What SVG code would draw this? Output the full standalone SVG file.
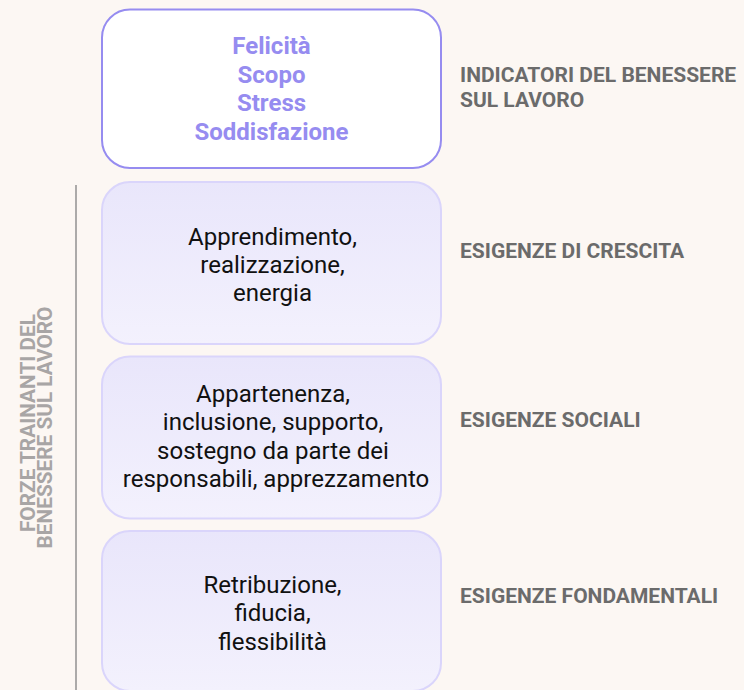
<svg xmlns="http://www.w3.org/2000/svg" width="744" height="690" viewBox="0 0 744 690">
  <defs>
    <linearGradient id="boxFill" x1="0" y1="0" x2="0" y2="1">
      <stop offset="0" stop-color="#e9e6fb"/>
      <stop offset="1" stop-color="#f3f1fd"/>
    </linearGradient>
    <style>
      .box { fill: url(#boxFill); stroke: #dad5fb; stroke-width: 2; }
      .topbox { fill: #ffffff; stroke: #968cf0; stroke-width: 2; }
      .ind { font-family: Roboto, "Liberation Sans", sans-serif; font-weight: 700; font-size: 24px; fill: #968cf0; text-anchor: middle; }
      .body { font-family: Roboto, "Liberation Sans", sans-serif; font-weight: 400; font-size: 24px; fill: #111111; text-anchor: middle; }
      .lbl { font-family: Roboto, "Liberation Sans", sans-serif; font-weight: 700; font-size: 21px; fill: #6b6b6b; }
      .side { font-family: Roboto, "Liberation Sans", sans-serif; font-weight: 700; font-size: 20.8px; fill: #a8a5a5; text-anchor: middle; }
    </style>
  </defs>
  <rect width="744" height="690" fill="#fcf7f3"/>

  <g id="bracket">
    <line x1="76" y1="185" x2="76" y2="690" stroke="#a3a1a1" stroke-width="1.8"/>
  </g>

  <g id="side-label">
    <text class="side" transform="translate(35,423) rotate(-90)">FORZE TRAINANTI DEL</text>
    <text class="side" transform="translate(52.3,427.5) rotate(-90)">BENESSERE SUL LAVORO</text>
  </g>

  <g id="node-indicatori">
    <rect class="topbox" x="102" y="9.5" width="339" height="158.5" rx="28"/>
    <text class="ind" x="271.5" y="54.3">Felicità</text>
    <text class="ind" x="271.5" y="82.7">Scopo</text>
    <text class="ind" x="271.5" y="111.1">Stress</text>
    <text class="ind" x="271.5" y="139.5">Soddisfazione</text>
  </g>

  <g id="node-crescita">
    <rect class="box" x="102" y="182" width="339" height="162" rx="28"/>
    <text class="body" x="272.5" y="245">Apprendimento,</text>
    <text class="body" x="272.5" y="273">realizzazione,</text>
    <text class="body" x="272.5" y="301">energia</text>
  </g>

  <g id="node-sociali">
    <rect class="box" x="102" y="356.5" width="339" height="162" rx="28"/>
    <text class="body" x="273" y="402">Appartenenza,</text>
    <text class="body" x="273" y="430.3">inclusione, supporto,</text>
    <text class="body" x="273" y="458.6">sostegno da parte dei</text>
    <text class="body" x="276" y="487">responsabili, apprezzamento</text>
  </g>

  <g id="node-fondamentali">
    <rect class="box" x="102" y="531" width="339" height="160" rx="28"/>
    <text class="body" x="272.5" y="592.7">Retribuzione,</text>
    <text class="body" x="272.5" y="621.2">fiducia,</text>
    <text class="body" x="272.5" y="649.7">flessibilità</text>
  </g>

  <g id="labels">
    <text class="lbl" x="460" y="82.3">INDICATORI DEL BENESSERE</text>
    <text class="lbl" x="460" y="106.7">SUL LAVORO</text>
    <text class="lbl" x="460" y="258.3">ESIGENZE DI CRESCITA</text>
    <text class="lbl" x="460" y="426.7">ESIGENZE SOCIALI</text>
    <text class="lbl" x="460" y="603.3">ESIGENZE FONDAMENTALI</text>
  </g>
</svg>
